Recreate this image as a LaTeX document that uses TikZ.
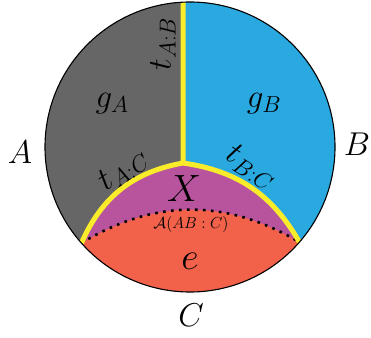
\RequirePackage{fix-cm}
\documentclass[tikz,border=0pt]{standalone}
\usepackage{amsmath,amssymb}
\usepackage{tikz}
\definecolor{regA}{HTML}{666666}
\definecolor{regB}{HTML}{29A9E0}
\definecolor{regX}{HTML}{B8549E}
\definecolor{regE}{HTML}{F2614A}
\definecolor{cutyellow}{HTML}{F9EC2A}
\begin{document}
\begin{tikzpicture}[
  x=1pt, y=1pt,
  region/.style={draw=none},
  cut/.style={
    draw=cutyellow,
    line width=5pt,
    line join=round,
  },
  surface/.style={
    draw=black,
    line width=2.6pt,
    dash pattern=on 2.6pt off 5.4pt,
  },
  rim/.style={
    draw=black,
    line width=1.1pt,
  },
  lbl/.style={font=\fontsize{33}{39}\selectfont, inner sep=0pt},
  biglbl/.style={font=\fontsize{38}{44}\selectfont, inner sep=0pt},
  tinylbl/.style={font=\fontsize{16}{19}\selectfont, inner sep=0pt},
]

\useasboundingbox (0,0) rectangle (371,337);

% --- geometry ---
\coordinate (ctr) at (190,190);
\coordinate (top) at (183,334.83);
\coordinate (junc) at (183,174);
\coordinate (ltip) at ([shift={(221.5:145)}]ctr);
\coordinate (rtip) at ([shift={(-41:145)}]ctr);

% =============================================================================
% Regions
% =============================================================================
\fill[region, regE] (ctr) circle (145);
\fill[region, regX] (ltip) to[bend left=31] (rtip) to[bend right=26] (junc)
  to[bend right=28] (ltip) -- cycle;
\fill[region, regA] (top) -- (junc) to[bend right=28] (ltip)
  arc[start angle=221.5, end angle=92.767, radius=145] -- cycle;
\fill[region, regB] (top) arc[start angle=92.767, end angle=-41, radius=145]
  to[bend right=26] (junc) -- cycle;

% =============================================================================
% Cuts and surface
% =============================================================================
\begin{scope}
  \clip (ctr) circle (145);
  \draw[surface] (ltip) to[bend left=31] (rtip);
  \draw[cut] (top) -- (junc) to[bend right=28] (ltip);
  \draw[cut] (junc) to[bend left=26] (rtip);
\end{scope}

\draw[rim] (ctr) circle (145);

% =============================================================================
% Labels
% =============================================================================
\node[lbl] (labA) at (20,185) {$A$};
\node[lbl] (labB) at (357,193) {$B$};
\node[lbl] (labC) at (191,22) {$C$};

\node[lbl] (gA) at (112,233) {$g_A$};
\node[lbl] (gB) at (264,233) {$g_B$};
\node[biglbl] (xreg) at (184,148) {$X$};
\node[biglbl] (ereg) at (190,76) {$e$};
\node[tinylbl] (areg) at (191,113) {$\mathcal{A}(AB:C)$};

\node[lbl, rotate=90] (tAB) at (163,293) {$t_{A:B}$};
\node[lbl, rotate=35] (tAC) at (123,167) {$t_{A:C}$};
\node[lbl, rotate=-33] (tBC) at (251,170) {$t_{B:C}$};

\end{tikzpicture}
\end{document}
